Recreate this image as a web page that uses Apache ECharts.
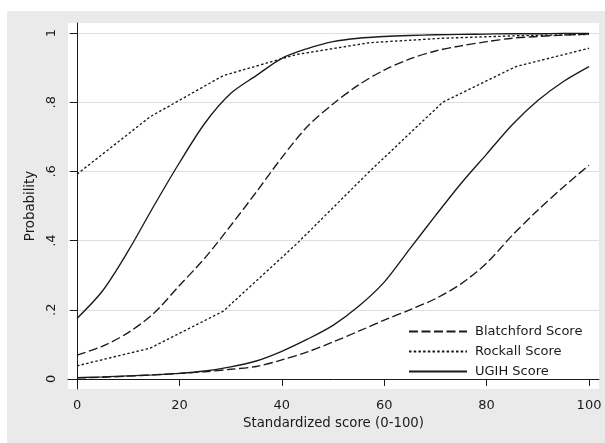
<!DOCTYPE html>
<html><head><meta charset="utf-8">
<script src="https://cdn.jsdelivr.net/npm/echarts@6/dist/echarts.min.js"></script>
<style>
html,body{margin:0;padding:0;background:#fff;width:605px;height:443px;overflow:hidden}
#bg{position:absolute;left:7px;top:11px;width:598px;height:432px;background:#eaeaea}
#c{position:absolute;left:0;top:0;width:605px;height:443px}
</style></head>
<body><div id="bg"></div><div id="c"></div>
<script>
const xTicks = [0, 20, 40, 60, 80, 100];
const yTicks = [0, 0.2, 0.4, 0.6, 0.8, 1];
const yTickLabels = ['0', '.2', '.4', '.6', '.8', '1'];
const seriesNames = ['Blatchford Score', 'Rockall Score', 'UGIH Score'];

const xSmooth = [0, 5, 10, 15, 20, 25, 30, 35, 40, 45, 50, 55, 60, 65, 70, 75, 80, 85, 90, 95, 100];
const blatchfordHigh = [0.069, 0.095, 0.134, 0.19, 0.27, 0.35, 0.443, 0.54, 0.64, 0.73, 0.795, 0.85, 0.893, 0.925, 0.948, 0.963, 0.975, 0.985, 0.990, 0.994, 0.997];
const blatchfordLow = [0.003, 0.005, 0.008, 0.012, 0.016, 0.021, 0.028, 0.036, 0.055, 0.078, 0.107, 0.138, 0.17, 0.20, 0.232, 0.275, 0.335, 0.415, 0.488, 0.555, 0.618];
const ugihHigh = [0.175, 0.255, 0.37, 0.50, 0.625, 0.74, 0.825, 0.877, 0.927, 0.955, 0.975, 0.985, 0.99, 0.993, 0.995, 0.996, 0.997, 0.998, 0.998, 0.999, 0.999];
const ugihLow = [0.004, 0.006, 0.009, 0.012, 0.016, 0.023, 0.035, 0.052, 0.08, 0.115, 0.155, 0.21, 0.28, 0.376, 0.472, 0.565, 0.65, 0.735, 0.805, 0.86, 0.903];

const xRockall = [0, 14.29, 28.57, 42.86, 57.14, 71.43, 85.71, 100];
const rockallHigh = [0.592, 0.758, 0.877, 0.938, 0.972, 0.985, 0.992, 0.996];
const rockallLow = [0.038, 0.089, 0.196, 0.39, 0.60, 0.80, 0.903, 0.956];

const pair = (xs, ys) => xs.map((x, i) => [x, ys[i]]);
const ink = '#1a1a1a';
const font = 'DejaVu Sans';
const dashB = [9, 3.5];
const dashR = [2.5, 2.2];

function line(name, data, dash, smooth) {
  return {
    type: 'line', name, data, symbol: 'none', showSymbol: false,
    smooth: smooth ? 0.3 : false, silent: true,
    lineStyle: { color: ink, width: 1.35, type: dash || 'solid' },
    itemStyle: { color: ink }
  };
}

const chart = echarts.init(document.getElementById('c'), null, { renderer: 'canvas' });
chart.setOption({
  backgroundColor: 'transparent',
  animation: false,
  grid: { left: 68, right: 6, top: 23, bottom: 54, show: true, backgroundColor: '#fff', borderWidth: 0 },
  legend: {
    data: seriesNames,
    orient: 'vertical', left: 403, top: 320,
    itemWidth: 58, itemHeight: 14, itemGap: 7,
    itemStyle: { opacity: 0, borderWidth: 0 },
    textStyle: { fontFamily: font, fontSize: 13, color: ink, padding: [0, 0, 0, 3] },
    selectedMode: false
  },
  xAxis: {
    type: 'value', min: -1.76, max: 101.95,
    name: 'Standardized score (0-100)', nameLocation: 'middle', nameGap: 24,
    nameTextStyle: { fontFamily: font, fontSize: 13.3, color: ink },
    axisLine: { show: true, lineStyle: { color: ink, width: 1 } },
    axisTick: { show: true, length: 7, customValues: xTicks, lineStyle: { color: ink } },
    axisLabel: { customValues: xTicks, fontFamily: font, fontSize: 13, color: ink, margin: 10 },
    splitLine: { show: false }
  },
  yAxis: {
    type: 'value', min: -0.029, max: 1.029,
    name: 'Probability', nameLocation: 'middle', nameGap: 26, nameRotate: 90,
    nameTextStyle: { fontFamily: font, fontSize: 13.3, color: ink },
    axisLine: { show: true, lineStyle: { color: ink, width: 1 } },
    axisTick: { show: true, length: 7, customValues: yTicks, lineStyle: { color: ink } },
    axisLabel: {
      customValues: yTicks, rotate: 90, fontFamily: font, fontSize: 13, color: ink, margin: 10,
      formatter: v => yTickLabels[yTicks.findIndex(t => Math.abs(t - v) < 1e-6)] ?? ''
    },
    splitLine: { show: true, lineStyle: { color: '#dedede', width: 1 } }
  },
  series: [
    line(seriesNames[0], pair(xSmooth, blatchfordHigh), dashB, true),
    line(seriesNames[0], pair(xSmooth, blatchfordLow), dashB, true),
    line(seriesNames[1], pair(xRockall, rockallHigh), dashR, false),
    line(seriesNames[1], pair(xRockall, rockallLow), dashR, false),
    line(seriesNames[2], pair(xSmooth, ugihHigh), null, true),
    line(seriesNames[2], pair(xSmooth, ugihLow), null, true)
  ]
});
</script></body></html>
